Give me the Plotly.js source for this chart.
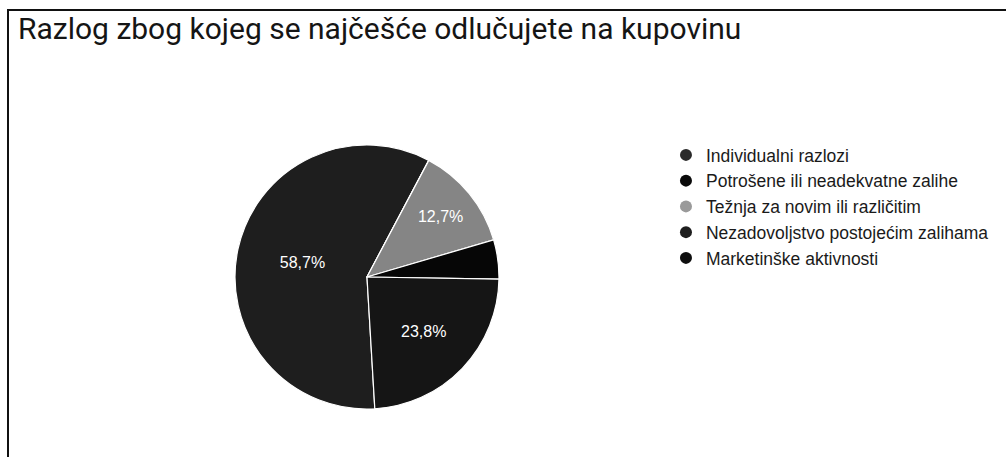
<!DOCTYPE html>
<html>
<head>
<meta charset="utf-8">
<script src="https://cdn.plot.ly/plotly-3.0.1.min.js"></script>
<style>
  html, body { margin: 0; padding: 0; background: #fff; }
  #wrap { position: relative; width: 1006px; height: 457px; overflow: hidden; }
  #chart { position: absolute; left: 0; top: 0; width: 1006px; height: 457px; }
  #frame { position: absolute; left: 7px; top: 9px; width: 1010px; height: 460px;
           border-left: 2px solid #111; border-top: 2px solid #111; pointer-events: none; }
</style>
</head>
<body>
<div id="wrap">
  <div id="chart"></div>
  <div id="frame"></div>
</div>
<script>
const titleText = 'Razlog zbog kojeg se najčešće odlučujete na kupovinu';
const categories = [
  'Individualni razlozi',
  'Potrošene ili neadekvatne zalihe',
  'Težnja za novim ili različitim',
  'Nezadovoljstvo postojećim zalihama',
  'Marketinške aktivnosti'
];
const percentages = [58.7, 0, 12.7, 4.8, 23.8];
const sliceColors = ['#1e1e1e', '#0a0a0a', '#858585', '#060606', '#151515'];
const legendColors = ['#2a2a2a', '#0a0a0a', '#9a9a9a', '#1e1e1e', '#0e0e0e'];

const labelText = percentages.map(v => v >= 10 ? v.toFixed(1).replace('.', ',') + '%' : '');

const pie = {
  type: 'pie',
  labels: categories,
  values: percentages,
  text: labelText,
  texttemplate: '%{text}',
  textposition: 'inside',
  insidetextorientation: 'horizontal',
  textfont: { family: '"Liberation Sans", Arial, sans-serif', size: 16, color: '#ffffff' },
  sort: false,
  direction: 'clockwise',
  rotation: 176.6,
  marker: { colors: sliceColors, line: { color: '#ffffff', width: 1.2 } },
  domain: { x: [0.2336, 0.496], y: [0.1028, 0.6849] },
  showlegend: false,
  hoverinfo: 'label+percent'
};

const legendTraces = categories.map((c, i) => ({
  type: 'scatter',
  mode: 'markers',
  x: [null], y: [null],
  name: c,
  marker: { symbol: 'circle', size: 13, color: legendColors[i] },
  showlegend: true,
  hoverinfo: 'skip'
}));

const layout = {
  width: 1006,
  height: 457,
  margin: { l: 0, r: 0, t: 0, b: 0 },
  paper_bgcolor: '#ffffff',
  plot_bgcolor: '#ffffff',
  title: {
    text: titleText,
    font: { family: 'Roboto, Arial, sans-serif', size: 30, color: '#151515' },
    x: 18 / 1006, xanchor: 'left', xref: 'paper',
    y: 1 - 28 / 457, yanchor: 'middle', yref: 'container'
  },
  xaxis: { visible: false, domain: [0.99, 1] },
  yaxis: { visible: false, domain: [0.99, 1] },
  showlegend: true,
  legend: {
    x: 0.662, xanchor: 'left',
    y: 1 - 137 / 457, yanchor: 'top',
    font: { family: '"Liberation Sans", Arial, sans-serif', size: 17.5, color: '#1a1a1a' },
    itemsizing: 'constant',
    tracegroupgap: 0,
    bgcolor: 'rgba(0,0,0,0)'
  }
};

Plotly.newPlot('chart', [pie].concat(legendTraces), layout, { displayModeBar: false, staticPlot: true });
</script>
</body>
</html>
